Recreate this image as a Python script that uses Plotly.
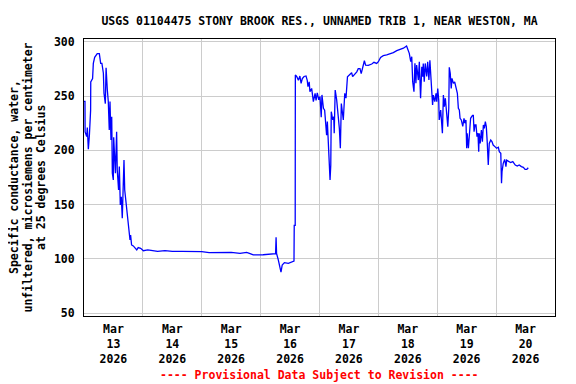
import pandas as pd
import plotly.graph_objects as go

# Hours after 2026-03-13 00:00 and specific conductance (uS/cm @ 25C)
hours = [
    0.0, 0.4, 0.45, 1.1, 1.35, 1.77, 2.2, 2.7, 2.75, 3.5, 3.8, 4.35, 5.4, 6.25, 6.8, 7.3, 7.9,
    8.15, 8.7, 9.0, 9.5, 9.9, 10.3, 10.6, 11.0, 11.3, 11.55, 11.95, 12.1, 12.5, 12.8, 13.3,
    13.55, 14.1, 14.4, 14.8, 15.2, 15.6, 16.0, 16.3, 16.6, 17.1, 17.4, 17.8, 18.3, 18.75,
    19.0, 19.4, 20.1, 20.8, 21.5, 22.1, 23.1, 24.2, 26.0, 28.0, 30.0, 33.0, 36.0, 40.0,
    44.0, 48.0, 51.0, 54.0, 57.0, 60.0, 63.6, 66.3, 67.7, 69.0, 73.0, 77.2, 78.1, 78.3,
    78.5, 79.2, 79.6, 80.3, 80.8, 81.7, 83.3, 84.7, 85.6, 85.7, 86.1, 86.15, 86.7, 87.4,
    88.0, 88.5, 89.0, 89.7, 90.5, 91.0, 91.3, 91.8, 92.1, 92.8, 93.5, 94.2, 94.6, 95.1,
    95.7, 96.2, 96.7, 97.0, 97.6, 98.1, 98.5, 98.9, 99.2, 99.7, 100.3, 100.6, 100.8, 101.4,
    101.8, 102.0, 102.4, 103.0, 103.5, 104.1, 104.5, 104.9, 105.3, 105.7, 106.3, 106.8,
    107.4, 108.1, 109.1, 109.5, 110.5, 111.2, 111.8, 112.5, 113.0, 113.6, 114.3, 114.8,
    115.9, 117.3, 118.2, 119.3, 120.0, 120.9, 122.0, 123.4, 124.7, 126.1, 127.5, 128.8,
    130.2, 131.5, 132.2, 132.6, 133.2, 133.6, 134.0, 134.5, 134.9, 135.3, 135.6, 136.3,
    136.7, 137.2, 137.7, 138.1, 138.3, 138.7, 139.1, 139.7, 140.1, 140.6, 141.0, 141.5,
    141.9, 142.1, 142.4, 143.0, 143.5, 143.8, 144.2, 144.6, 144.8, 145.4, 145.8, 146.1,
    146.5, 146.9, 147.3, 147.9, 148.3, 148.7, 148.9, 149.3, 149.7, 150.0, 150.6, 151.1,
    151.6, 152.2, 152.6, 153.0, 153.3, 153.8, 154.4, 154.9, 155.3, 155.7, 156.0, 156.2,
    156.7, 157.1, 157.6, 158.2, 158.7, 159.0, 159.4, 159.8, 160.2, 160.6, 160.9, 161.1,
    161.5, 162.0, 162.4, 162.8, 163.2, 163.6, 164.0, 164.4, 164.8, 165.2, 165.8, 166.3,
    166.8, 167.5, 168.2, 168.9, 169.3, 169.9, 170.2, 170.4, 170.9, 171.5, 172.0, 172.3,
    173.1, 173.9, 174.8, 175.3, 175.8, 176.6, 177.4, 178.3, 179.1, 179.8, 180.5, 181.1,
]
conductance = [
    245, 245, 217, 212.6, 221, 201, 214, 237, 263, 266, 280, 285.6, 289, 289, 280, 280, 271,
    252.5, 243, 276, 256, 245, 218.7, 245, 209.5, 231, 179, 172.7, 212, 194, 179, 217.2,
    181.9, 163.5, 185, 149.7, 157.3, 137.5, 171.1, 191, 163.5, 152.7, 143.5, 135.9, 126.7, 117.5,
    122, 112.9, 112, 109.8, 108.3, 110.5, 109.8, 107.6, 108.3, 107.6, 107.0, 107.6, 107.0, 107.0,
    107.0, 106.8, 105.8, 105.8, 105.8, 106.1, 105.2, 106.1, 105.0, 103.7, 103.9, 105.0, 105.0, 120,
    105.0, 99.1, 94.5, 87.8, 94.5, 96.6, 96.0, 97.0, 98.0, 131, 131, 269.4, 268, 264.5,
    268.4, 261.7, 266, 268, 268.5, 264.5, 258.6, 263, 254, 257, 244.8, 252.5, 246, 253,
    246.5, 249.5, 230.4, 251, 238.7, 237, 218.7, 214, 226.5, 195.7, 172.7, 186.5, 235.6, 228,
    231, 215.7, 255.5, 246.5, 235.6, 220, 201.9, 243, 235.6, 228, 252.5, 248,
    267.8, 269.3, 271.5, 267.8, 270.7, 272.3, 275.2, 275.2, 270.7, 277.5, 282.5, 278.5,
    278.2, 279.5, 281, 280, 281.6, 285.6, 287.2, 287.8, 288.7, 290, 291.8, 293,
    294, 296, 292.4, 289.3, 281.6, 286.2, 263, 254, 280.1, 261.7, 278.6, 264.7,
    281.6, 248, 277, 267.8, 280, 263.2, 280, 268, 281.6, 264.7, 283, 261.7,
    257, 241.7, 250.9, 244.8, 252.5, 244.8, 257, 246.3, 228, 237.1, 224.9, 215.7,
    251, 240.2, 248, 234.1, 221.8, 238.7, 276.4, 271, 257, 266.3, 261.7, 263,
    257, 252.5, 238.7, 237.2, 229.5, 228, 222, 229.5, 225, 228, 201.9, 215.7,
    201.9, 218.7, 229.5, 231.6, 232.5, 217.2, 223.4, 223.4, 212.6, 215.7, 198.7, 215.7,
    206.4, 218.7, 208, 223.4, 220.3, 226.4, 221.8, 206.4, 186.5, 206.4, 209.5, 208,
    204.9, 203.4, 201.9, 202.8, 198.7, 197.2, 169.7, 180.3, 188, 191.7, 185, 191,
    189.6, 188.7, 189.6, 188, 186.5, 185.6, 186.5, 185, 184.3, 182.5, 182.5, 184,
]

days = ["2026-03-13", "2026-03-14", "2026-03-15", "2026-03-16",
        "2026-03-17", "2026-03-18", "2026-03-19", "2026-03-20"]
day_labels = ["Mar<br>13<br>2026", "Mar<br>14<br>2026", "Mar<br>15<br>2026", "Mar<br>16<br>2026",
              "Mar<br>17<br>2026", "Mar<br>18<br>2026", "Mar<br>19<br>2026", "Mar<br>20<br>2026"]
y_ticks = [50, 100, 150, 200, 250, 300]
y_title_lines = ["Specific conductance, water,",
                 "unfiltered, microsiemens per centimeter",
                 "at 25 degrees Celsius"]

base = pd.Timestamp("2026-03-13 00:00")
times = base + pd.to_timedelta(hours, unit="h")
noon = [pd.Timestamp(d) + pd.Timedelta(hours=12) for d in days]
midnights = [pd.Timestamp(d) for d in days[1:]]

FONT = "DejaVu Sans Mono"
fs = 11.5
W, H = 568, 376  # page body adds an 8px margin around the figure
PLOT_W = 471

fig = go.Figure()
fig.add_trace(go.Scatter(x=times, y=conductance, mode="lines",
                         line=dict(color="#0000ff", width=1.3), showlegend=False,
                         hoverinfo="skip"))

annotations = []
for line_text, cx in zip(y_title_lines, [13.5, 27, 40.5]):
    annotations.append(dict(text=line_text, xref="paper", yref="paper",
                            x=(cx - 84) / PLOT_W, y=0.5,
                            xanchor="center", yanchor="middle", textangle=-90,
                            showarrow=False,
                            font=dict(family=FONT, size=fs, color="black", weight="bold")))
annotations.append(dict(text="---- Provisional Data Subject to Revision ----",
                        xref="paper", yref="paper", x=0.5, y=(316 - 375) / 277,
                        xanchor="center", yanchor="middle", showarrow=False,
                        font=dict(family=FONT, size=fs, color="#ff0000", weight="bold")))

fig.update_layout(
    width=W, height=H,
    margin=dict(l=76, r=21, t=31, b=68, autoexpand=False),
    paper_bgcolor="white", plot_bgcolor="white",
    font=dict(family=FONT, size=fs, color="black", weight="bold"),
    title=dict(text="USGS 01104475 STONY BROOK RES., UNNAMED TRIB 1, NEAR WESTON, MA",
               x=0.5, xanchor="center", xref="paper",
               y=1 - 13 / H, yanchor="middle", yref="container",
               font=dict(family=FONT, size=fs, color="black", weight="bold")),
    xaxis=dict(
        type="date",
        range=[pd.Timestamp("2026-03-13"), pd.Timestamp("2026-03-21")],
        tickmode="array", tickvals=noon, ticktext=day_labels,
        showgrid=False, ticks="", showline=True, linecolor="black", linewidth=1,
        mirror=True, zeroline=False, ticklabelstandoff=2,
        minor=dict(tickmode="array", tickvals=midnights, showgrid=True,
                   gridcolor="#cccccc", gridwidth=1, ticks=""),
        tickfont=dict(family=FONT, size=fs, color="black", weight="bold"),
    ),
    yaxis=dict(
        range=[47.5, 302.5], tickmode="array", tickvals=y_ticks,
        showgrid=True, gridcolor="#cccccc", gridwidth=1,
        ticks="", showline=True, linecolor="black", linewidth=1, mirror=True,
        zeroline=False, ticklabelstandoff=6,
        tickfont=dict(family=FONT, size=fs, color="black", weight="bold"),
    ),
    annotations=annotations,
)

fig.write_html("out.html")
